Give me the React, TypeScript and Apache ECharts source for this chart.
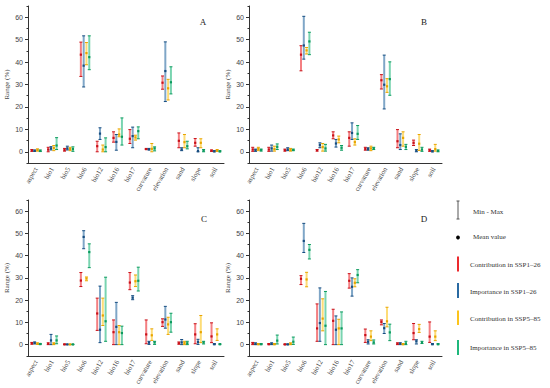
import React, { useEffect, useRef } from "react";
import * as echarts from "echarts";

const categories = ["aspect", "bio1", "bio5", "bio6", "bio12", "bio16", "bio17", "curvature", "elevation", "sand", "slope", "soil"];
const yTickLabels = [0, 10, 20, 30, 40, 50, 60];
const panelLetters = ["A", "B", "C", "D"];
const seriesNames = ["Contribution in SSP1\u201326", "Importance in SSP1\u201326", "Contribution in SSP5\u201385", "Importance in SSP5\u201385"];

// [min, max, mean] per category
const A_c126 = [[0.2,1.0,0.6],[0,2,1],[0.3,1.5,0.8],[33.6,48.9,43.3],[0,4.7,2.5],[4.3,8.9,6.2],[3.7,9.9,5.8],[1,1.5,1.2],[27.9,33.8,30.8],[1.8,8.4,4.9],[2.5,5.9,4],[0.2,0.8,0.5]];
const A_i126 = [[0.2,0.8,0.4],[0.8,2.3,1.5],[0.8,2.5,1.5],[28.9,51.7,38.4],[5.5,10.7,8.1],[0.7,7.7,4.4],[1.8,11,7],[0.8,1.5,1.1],[22.4,49,36],[0.5,1.8,1],[0,1.8,0.3],[0,0.5,0.2]];
const A_c585 = [[0.3,1.3,0.8],[0.5,2.8,1.7],[0.5,2,1.2],[38.8,48.7,44],[0,3,1],[6.7,10.2,7.7],[5.2,7.4,6.4],[0,3.7,1.3],[23.1,32.3,28.3],[1.8,7.7,4.3],[1.8,5.8,4],[0.2,1,0.6]];
const A_i585 = [[0.1,0.8,0.4],[1,6.3,2.8],[0.2,2.2,1.2],[36.6,51.7,42.2],[0,6.2,2.1],[3,15.1,6.7],[5.8,11.1,9.2],[0.4,2.2,1.5],[25.8,37.9,31],[1.3,4.7,2.5],[0,1,0.5],[0,0.5,0.2]];

const B_c126 = [[0.2,2,1],[0.2,2,1],[0.3,1.2,0.7],[36.1,47.3,43.3],[0.3,1,0.7],[5.8,8.9,7.3],[2.5,8.9,6.2],[0.7,2,1.3],[28,34.4,31.9],[1.8,9.9,4.7],[2.8,5.2,4],[0.2,1.2,0.7]];
const B_i126 = [[0.2,1.2,0.7],[0.3,3,1.5],[0.5,1.8,1],[41.3,60.4,47.4],[1.8,4,3],[2.1,5.5,3.7],[5.5,12.9,8.4],[0.7,1.8,1.2],[19.1,43.1,29.9],[1,8,3],[0,1,0.5],[0,0.5,0.2]];
const B_c585 = [[0.5,2,1.3],[0.3,2.5,1.2],[0.3,1.5,0.8],[43.6,46.5,45.2],[0.3,3.7,2.1],[4,7,5.5],[3,5.8,4.3],[0.5,2.5,1.5],[26.5,32.6,29.2],[2.5,8.9,6.2],[0.6,7.7,3.6],[0.3,3.3,1.2]];
const B_i585 = [[0.3,1.2,0.8],[1,3.5,2.2],[0.5,1.2,0.8],[43.3,53.3,49.2],[0.3,3.3,1.5],[0.7,2.8,1.8],[5.5,11.7,8],[1,2,1.5],[25.2,40.1,32.4],[1,3.3,2.2],[0.2,2,1],[0,0.8,0.4]];

const C_c126 = [[0.2,1,0.6],[0,0.8,0.4],[0,0.3,0.1],[26.1,32.4,28.8],[6.4,20.9,14],[0,11.1,5.6],[24.7,32.4,27.9],[0.4,11.1,4.6],[8.2,11.6,10.1],[0.2,1.2,0.6],[0.4,9.4,4.6],[0.9,9.8,3.7]];
const C_i126 = [[0.3,1.2,0.8],[0,4.6,1.9],[0,0.2,0.1],[43.1,51.2,48.4],[0.9,26.3,6.7],[0,19,8],[20.2,22,21.1],[0.1,1.5,0.9],[7.4,17.2,11.3],[0,2.3,1],[0.1,2.4,1.2],[0,0.5,0.2]];
const C_c585 = [[0.1,0.8,0.4],[0,0.8,0.4],[0,0.2,0.1],[28.7,30.4,29.7],[8.6,20.9,13.1],[0,8.6,5.6],[26.1,31.3,28.5],[1.9,7.1,4.2],[4.6,12.3,9.1],[0,1.5,0.7],[0.9,13.1,5.6],[1.9,7.1,4.6]];
const C_i585 = [[0,0.5,0.3],[0.4,3.9,1.9],[0,0.2,0.1],[34.6,45.3,41.6],[1.5,30.3,10.5],[0,8.3,5.2],[24.1,34.8,28.7],[0.1,1.5,1],[5.6,14.1,10.1],[0,1.5,0.6],[0.3,1.5,1],[0,0.4,0.2]];

const D_c126 = [[0,1,0.5],[0,0.5,0.2],[0,0.3,0.1],[27,31,29.6],[1.5,18.3,7.3],[0,15.9,10.7],[25.4,31.9,28.7],[1,7,4.3],[8.9,11.1,10.2],[0,0.8,0.4],[2.2,9.5,5.2],[1,10.2,3.6]];
const D_i126 = [[0,0.8,0.3],[0,0.8,0.4],[0,0.3,0.1],[41.4,54.5,46.6],[1.5,25.5,9.7],[0,12.9,6.7],[21.8,30,26],[0.3,2.2,1.3],[5,9.5,7.4],[0,0.8,0.5],[0.3,2.2,1.5],[0,0.5,0.2]];
const D_c585 = [[0,0.5,0.2],[0,0.5,0.2],[0,0.8,0.3],[26,32.5,29.3],[6.2,20.6,11.7],[0,11.4,7.3],[26,29.6,27.8],[1.8,6.2,3.6],[8,16.8,10.5],[0,0.5,0.2],[5.5,9.1,7],[1.8,6.2,3.6]];
const D_i585 = [[0,0.5,0.2],[0.3,4.3,1.8],[0.1,3.4,1.3],[38.5,45,42.6],[0,23.9,8.5],[0,14.7,7.3],[27.8,33.7,31.3],[0.3,2.1,1],[1.8,9.2,5.5],[0,1.5,0.5],[0.5,1.5,1],[0,0.5,0.2]];

const panels = [
  [A_c126, A_i126, A_c585, A_i585],
  [B_c126, B_i126, B_c585, B_i585],
  [C_c126, C_i126, C_c585, C_i585],
  [D_c126, D_i126, D_c585, D_i585],
];

const barColors = ["#ec2a2e", "#2a6aa2", "#fcc41c", "#1fb87c"];
const darkColors = ["#c81018", "#174d80", "#e8a400", "#0c9a5e"];
const offsets = [-4.3, -1.5, 1.3, 4.1];

const grids = [
  { left: 28, top: 6, width: 196, height: 157 },
  { left: 249, top: 6, width: 193, height: 157 },
  { left: 28, top: 200, width: 196, height: 157 },
  { left: 249, top: 200, width: 193, height: 157 },
];
const letterPos = [[203, 22], [424, 22], [204, 219], [424, 219]];

export default function App() {
  const ref = useRef<HTMLDivElement>(null);
  useEffect(() => {
    if (!ref.current) return;
    const chart = echarts.init(ref.current, null, { renderer: "svg" });
    const axisColor = "#333";
    const xAxes: any[] = [];
    const yAxes: any[] = [];
    const series: any[] = [];
    grids.forEach((g, gi) => {
      xAxes.push({
        type: "category",
        gridIndex: gi,
        data: categories,
        boundaryGap: true,
        axisLine: { onZero: false, lineStyle: { color: axisColor, width: 1 } },
        axisTick: { alignWithLabel: true, length: 3, lineStyle: { color: axisColor } },
        axisLabel: { rotate: 60, interval: 0, fontSize: 7, color: "#444", margin: 5, fontFamily: "Liberation Serif" },
        splitLine: { show: false },
      });
      yAxes.push({
        type: "value",
        gridIndex: gi,
        min: -5,
        max: 65,
        interval: 5,
        name: "Range (%)",
        nameLocation: "middle",
        nameRotate: 90,
        nameGap: 18,
        nameTextStyle: { fontSize: 7, color: "#444", fontFamily: "Liberation Serif" },
        axisLine: { show: true, onZero: false, lineStyle: { color: axisColor, width: 1 } },
        axisTick: { show: true, length: 3, customValues: yTickLabels, lineStyle: { color: axisColor } },
        axisLabel: { fontSize: 7, color: "#444", margin: 5, customValues: yTickLabels, fontFamily: "Liberation Sans" },
        splitLine: { show: false },
      });
    });
    grids.forEach((g, gi) => {
      yAxes.push({
        type: "value",
        gridIndex: gi,
        position: "left",
        offset: 0,
        min: -5,
        max: 65,
        interval: 5,
        axisLine: { show: false, onZero: false },
        axisTick: { show: true, length: 1.5, lineStyle: { color: axisColor } },
        axisLabel: { show: false },
        splitLine: { show: false },
      });
    });
    panels.forEach((pd, gi) => {
      pd.forEach((arr, si) => {
        const color = barColors[si];
        const dark = darkColors[si];
        const off = offsets[si];
        series.push({
          type: "custom",
          name: seriesNames[si],
          xAxisIndex: gi,
          yAxisIndex: gi,
          data: arr.map((v, i) => [i, v[0], v[1], v[2]]),
          encode: { x: 0, y: [1, 2, 3] },
          renderItem: (params: any, api: any) => {
            const ci = api.value(0);
            const pLo = api.coord([ci, api.value(1)]);
            const pHi = api.coord([ci, api.value(2)]);
            const pM = api.coord([ci, api.value(3)]);
            const x = pLo[0] + off;
            return {
              type: "group",
              children: [
                { type: "line", shape: { x1: x, y1: pLo[1], x2: x, y2: pHi[1] }, style: { stroke: color, lineWidth: 2, opacity: 0.6 } },
                { type: "line", shape: { x1: x - 1.5, y1: pHi[1], x2: x + 1.5, y2: pHi[1] }, style: { stroke: dark, lineWidth: 1 } },
                { type: "line", shape: { x1: x - 1.5, y1: pLo[1], x2: x + 1.5, y2: pLo[1] }, style: { stroke: dark, lineWidth: 1 } },
                { type: "rect", shape: { x: x - 1.1, y: pM[1] - 1.1, width: 2.2, height: 2.2 }, style: { fill: dark } },
              ],
            };
          },
        });
      });
    });

    const graphic: any[] = [];
    panelLetters.forEach((l, i) => {
      graphic.push({
        type: "text",
        x: letterPos[i][0],
        y: letterPos[i][1],
        style: { text: l, fontSize: 9, fontFamily: "Liberation Serif", fill: "#222", align: "center", verticalAlign: "middle" },
      });
    });
    // legend
    const lx = 458;
    graphic.push({ type: "line", shape: { x1: lx, y1: 201, x2: lx, y2: 219 }, style: { stroke: "#555", lineWidth: 1 } });
    graphic.push({ type: "line", shape: { x1: lx - 1.5, y1: 201, x2: lx + 1.5, y2: 201 }, style: { stroke: "#555", lineWidth: 1 } });
    graphic.push({ type: "line", shape: { x1: lx - 1.5, y1: 219, x2: lx + 1.5, y2: 219 }, style: { stroke: "#555", lineWidth: 1 } });
    graphic.push({ type: "text", x: 473, y: 211.5, style: { text: "Min - Max", fontSize: 7, fontFamily: "Liberation Serif", fill: "#333", verticalAlign: "middle" } });
    graphic.push({ type: "circle", shape: { cx: lx, cy: 237.5, r: 1.9 }, style: { fill: "#000" } });
    graphic.push({ type: "text", x: 473, y: 237, style: { text: "Mean value", fontSize: 7, fontFamily: "Liberation Serif", fill: "#333", verticalAlign: "middle" } });
    const legYs = [[256.5, 271.5, 265], [283, 298, 291.5], [310.5, 325, 318.5], [340, 355, 348]];
    legYs.forEach((ly, i) => {
      graphic.push({ type: "rect", shape: { x: lx - 1, y: ly[0], width: 2, height: ly[1] - ly[0] }, style: { fill: barColors[i] } });
      graphic.push({ type: "text", x: 470, y: ly[2], style: { text: seriesNames[i], fontSize: 7, fontFamily: "Liberation Serif", fill: "#333", verticalAlign: "middle" } });
    });

    chart.setOption({
      animation: false,
      backgroundColor: "#ffffff",
      grid: grids.map((g) => ({ ...g, containLabel: false })),
      xAxis: xAxes,
      yAxis: yAxes,
      series,
      graphic,
    });
    return () => chart.dispose();
  }, []);
  return <div ref={ref} style={{ position: "fixed", left: 0, top: 0, width: 550, height: 388 }} />;
}
